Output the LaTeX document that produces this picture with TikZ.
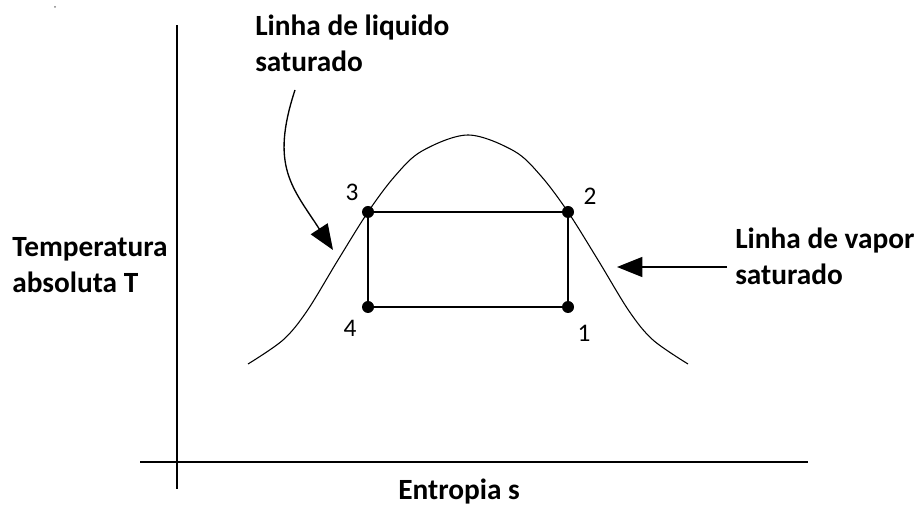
\documentclass[tikz,border=0pt]{standalone}
\usepackage{fontspec}
\setmainfont{Carlito}
\usetikzlibrary{arrows.meta}
\tikzset{
  lbl/.style={font=\fontsize{22}{27.5}\selectfont\bfseries, align=left, anchor=base west, inner sep=0pt},
  num/.style={font=\fontsize{19}{23}\selectfont, inner sep=0pt},
  pnt/.style={circle, fill=black, inner sep=0pt, minimum size=9pt},
  arr/.style={line width=1pt, -{Triangle[length=19pt,width=15pt]}},
}
\begin{document}
\begin{tikzpicture}[x=0.75pt,y=0.75pt]
\useasboundingbox (0,0) rectangle (916,506);
\fill[gray] (55,499) circle (1);
\draw[line width=1.5pt] (177,17) -- (177,481);
\draw[line width=1.5pt] (140,44) -- (808,44);
\node[lbl] (liq) at (255,434) {Linha de liquido\\saturado};
\node[lbl] (temp) at (12,213) {Temperatura\\absoluta T};
\node[lbl] (vap) at (735,221) {Linha de vapor\\saturado};
\node[lbl] (ent) at (398,6) {Entropia s};
\draw[line width=0.8pt] plot[smooth, tension=0.55] coordinates {(248,142) (283,166) (307,195) (338,246) (368,294) (395,330) (422,355) (468,371) (514,355) (541,330) (568,294) (598,246) (629,195) (653,166) (688,142)};
\node[pnt] (p3) at (368,294) {};
\node[pnt] (p2) at (568,294) {};
\node[pnt] (p1) at (568,199) {};
\node[pnt] (p4) at (368,199) {};
\draw[line width=1.2pt] (p3.center) -- (p2.center) -- (p1.center) -- (p4.center) -- cycle;
\node[num] (n3) at (352,314) {3};
\node[num] (n2) at (590,310) {2};
\node[num] (n1) at (584,173) {1};
\node[num] (n4) at (350,178) {4};
\coordinate (liqtail) at (295,416);
\coordinate (liqtip) at (333,256);
\draw[arr] (liqtail) .. controls (270,340) and (292,319) .. (liqtip);
\coordinate (vaptail) at (727,239);
\coordinate (vaptip) at (617,239);
\draw[arr] (vaptail) -- (vaptip);
\end{tikzpicture}
\end{document}
